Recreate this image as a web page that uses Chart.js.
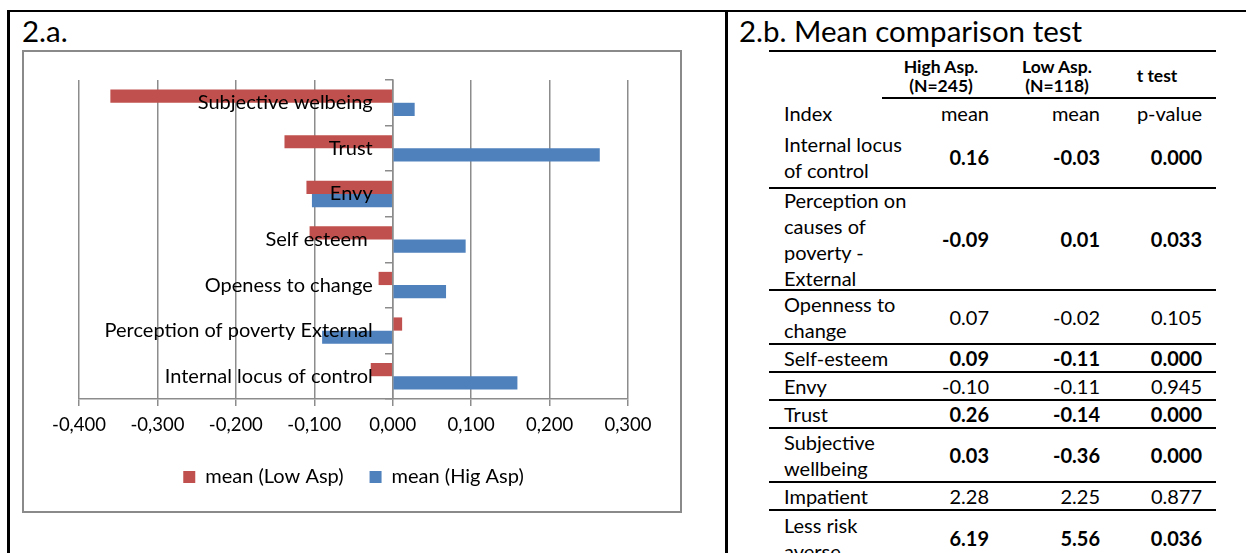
<!DOCTYPE html>
<html>
<head>
<meta charset="utf-8">
<script src="https://cdn.jsdelivr.net/npm/chart.js@4.4.1/dist/chart.umd.min.js"></script>
<style>
  html, body { margin: 0; padding: 0; background: #fff; }
  body { width: 1246px; height: 553px; overflow: hidden; position: relative; font-family: Lato, "Open Sans", sans-serif; color: #000; }
  .frame { position: absolute; left: 7px; top: 10px; width: 1260px; height: 600px; border-top: 2.5px solid #000; border-left: 3px solid #000; }
  .divider { position: absolute; left: 725px; top: 10px; width: 3px; height: 600px; background: #000; }
  .title { position: absolute; font-size: 29.5px; line-height: 1; }
  #chartBox { position: absolute; left: 22px; top: 50px; width: 660px; height: 463px; border: 2px solid #8a8a8a; box-sizing: border-box; }
  #chartBox canvas { display: block; }
  .hline { position: absolute; height: 2px; background: #000; }
  .hcell { position: absolute; top: 52px; height: 45px; display: flex; align-items: center; justify-content: center; text-align: center;
           font-weight: bold; font-size: 17.5px; line-height: 19px; padding-top: 2px; box-sizing: border-box; }
  #rows { position: absolute; left: 769px; top: 99px; width: 447px; font-size: 20px; line-height: 26px; }
  .row { display: flex; align-items: center; box-sizing: border-box; white-space: nowrap; }
  .row.line { border-bottom: 2px solid #000; }
  .row > div:nth-child(1) { width: 145px; padding-left: 15px; box-sizing: border-box; }
  .row > div:nth-child(2) { width: 78px; padding-right: 3px; text-align: right; box-sizing: border-box; }
  .row > div:nth-child(3) { width: 111px; padding-right: 3px; text-align: right; box-sizing: border-box; }
  .row > div:nth-child(4) { width: 113px; padding-right: 14px; text-align: right; box-sizing: border-box; }
  .b { font-weight: bold; }
</style>
</head>
<body>
<div class="frame"></div>
<div class="divider"></div>
<div class="title" style="left:22px; top:16px;">2.a.</div>
<div class="title" style="left:739px; top:16px;">2.b. Mean comparison test</div>

<div id="chartBox"><canvas id="chart" width="656" height="459"></canvas></div>

<!-- 2.b table -->
<div class="hline" style="left:769px; top:50px; width:447px;"></div>
<div class="hcell" style="left:896px; width:90px;">High Asp.<br>(N=245)</div>
<div class="hcell" style="left:1012px; width:90px;">Low Asp.<br>(N=118)</div>
<div class="hcell" style="left:1112px; width:90px;">t test</div>
<div class="hline" style="left:882px; top:97px; width:334px;"></div>
<div id="rows">
  <div class="row" style="height:28px"><div>Index</div><div>mean</div><div>mean</div><div>p-value</div></div>
  <div class="row line" style="height:62px"><div>Internal locus<br>of control</div><div class="b">0.16</div><div class="b">-0.03</div><div class="b">0.000</div></div>
  <div class="row line" style="height:102px"><div>Perception on<br>causes of<br>poverty -<br>External</div><div class="b">-0.09</div><div class="b">0.01</div><div class="b">0.033</div></div>
  <div class="row line" style="height:54px"><div>Openness to<br>change</div><div>0.07</div><div>-0.02</div><div>0.105</div></div>
  <div class="row line" style="height:28px"><div>Self-esteem</div><div class="b">0.09</div><div class="b">-0.11</div><div class="b">0.000</div></div>
  <div class="row line" style="height:28px"><div>Envy</div><div>-0.10</div><div>-0.11</div><div>0.945</div></div>
  <div class="row line" style="height:28px"><div>Trust</div><div class="b">0.26</div><div class="b">-0.14</div><div class="b">0.000</div></div>
  <div class="row line" style="height:54px"><div>Subjective<br>wellbeing</div><div class="b">0.03</div><div class="b">-0.36</div><div class="b">0.000</div></div>
  <div class="row line" style="height:28px"><div>Impatient</div><div>2.28</div><div>2.25</div><div>0.877</div></div>
  <div class="row" style="height:54px"><div>Less risk<br>averse</div><div class="b">6.19</div><div class="b">5.56</div><div class="b">0.036</div></div>
</div>

<script>
// chart data
const categories = ["Subjective welbeing", "Trust", "Envy", "Self esteem ", "Openess to change", "Perception of poverty External", "Internal locus of control"];
const lowAsp = [-0.360, -0.138, -0.110, -0.106, -0.018, 0.012, -0.028];
const highAsp = [0.028, 0.264, -0.103, 0.093, 0.068, -0.090, 0.159];
const xTicks = [-0.4, -0.3, -0.2, -0.1, 0, 0.1, 0.2, 0.3];
const xTickLabels = ["-0,400", "-0,300", "-0,200", "-0,100", "0,000", "0,100", "0,200", "0,300"];
const seriesNames = ["mean (Low Asp)", "mean (Hig Asp)"];

const RED = "#C0504D";
const BLUE = "#4F81BD";
const GRID = "#8c8c8c";
const tickFont = { family: "Lato", size: 18.5 };
const labelFont = { family: "Lato", size: 20 };

new Chart(document.getElementById("chart"), {
  type: "bar",
  data: {
    labels: categories,
    datasets: [
      { label: seriesNames[0], data: lowAsp, backgroundColor: RED },
      { label: seriesNames[1], data: highAsp, backgroundColor: BLUE }
    ]
  },
  options: {
    indexAxis: "y",
    responsive: false,
    animation: false,
    devicePixelRatio: 1,
    categoryPercentage: 0.58,
    barPercentage: 1.0,
    layout: { padding: { left: 55, right: 52, top: 28, bottom: 14 } },
    scales: {
      x: {
        type: "linear",
        min: -0.4,
        max: 0.3,
        afterBuildTicks: (scale) => { scale.ticks = xTicks.map(v => ({ value: v })); },
        afterFit: (scale) => { scale.height = 42; },
        ticks: {
          font: tickFont,
          color: "#000",
          padding: 8,
          maxRotation: 0,
          callback: (v, i) => xTickLabels[i]
        },
        grid: { color: GRID, lineWidth: 1.5, tickLength: 7, drawTicks: true },
        border: { display: true, color: GRID, width: 1.5 }
      },
      // value axis crossing at 0: line and tick marks only
      y: {
        type: "category",
        position: { x: 0 },
        ticks: { display: false },
        grid: { drawOnChartArea: false, drawTicks: true, tickLength: 7, color: GRID, lineWidth: 1.5 },
        border: { display: true, color: GRID, width: 1.5 }
      },
      // category names, drawn a little left of the 0 line and above the bars
      yNames: {
        axis: "y",
        type: "category",
        offset: true,
        position: { x: -0.0255 },
        grid: { display: false },
        border: { display: false },
        ticks: { font: labelFont, color: "#000", z: 1, autoSkip: false }
      }
    },
    plugins: {
      legend: {
        position: "bottom",
        labels: { font: labelFont, color: "#000", boxWidth: 12, boxHeight: 12, padding: 26 }
      },
      tooltip: { enabled: false }
    }
  }
});
</script>
</body>
</html>
